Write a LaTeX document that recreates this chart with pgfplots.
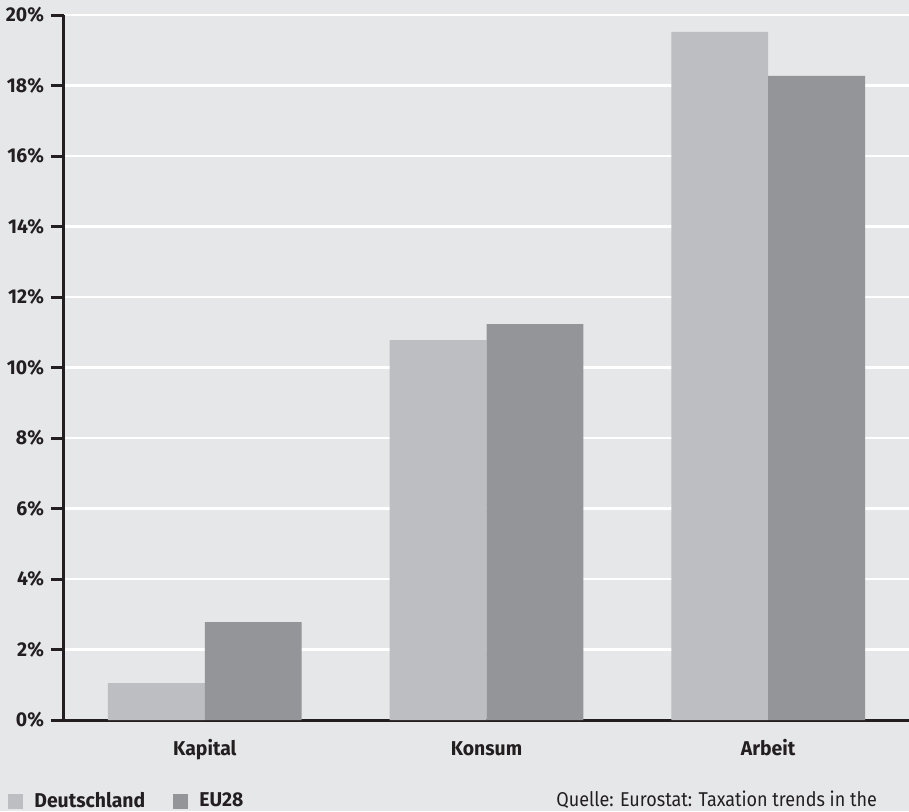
\documentclass[border=0pt]{standalone}
\usepackage{fontspec}
\setmainfont{Fira Sans}[FakeStretch=0.97]
\newfontfamily\srcfont{Fira Sans}[FakeStretch=0.9]
\usepackage{pgfplots}
\pgfplotsset{compat=1.18}
\definecolor{bg}{HTML}{E6E7E9}
\definecolor{de}{HTML}{BDBEC1}
\definecolor{eu}{HTML}{949598}
\definecolor{ax}{HTML}{231F20}
\begin{document}
\begin{tikzpicture}[x=1pt,y=1pt]
\fill[bg] (-32,-45.5) rectangle (422.5,360);
\useasboundingbox (-32,-45.5) rectangle (422.5,360);
\begin{axis}[
  at={(0,0)}, anchor=south west,
  scale only axis, width=422.5pt, height=352.5pt,
  xmin=-0.5, xmax=2.5, ymin=0, ymax=20,
  ybar=0pt, bar width=0.344,
  axis x line*=bottom, axis y line*=left,
  axis line style={-, line width=1.5pt, color=ax},
  tick align=outside,
  major tick length=6.5pt, minor tick length=6.5pt,
  every tick/.style={line width=1.5pt, color=ax},
  xtick={0,1,2}, xticklabels={Kapital,Konsum,Arbeit},
  xtick style={draw=none},
  minor xtick={-0.5,0.5,1.5},
  ytick={0,2,...,20},
  yticklabel={\pgfmathprintnumber{\tick}\%},
  /pgf/number format/assume math mode=true,
  ticklabel style={font=\bfseries\fontsize{10}{12}\selectfont, text=ax},
  xticklabel style={text height=7.6pt, text depth=2.2pt},
  ymajorgrids, grid style={white, line width=1.2pt},
  legend style={draw=none, fill=none, at={(axis description cs:0,0)}, anchor=north west,
    xshift=-31pt, yshift=-32pt, font=\bfseries\fontsize{10}{12}\selectfont, text=ax,
    /tikz/every odd column/.append style={column sep=3.5pt},
    /tikz/every even column/.append style={column sep=12pt}},
  legend columns=2,
  legend image code/.code={\fill[#1] (0pt,-3.75pt) rectangle (7.5pt,3.75pt);},
]
\addplot[fill=de, draw=none] coordinates {(0,1.05) (1,10.78) (2,19.52)};
\addplot[fill=eu, draw=none] coordinates {(0,2.78) (1,11.23) (2,18.27)};
\legend{Deutschland,EU28}
\end{axis}
\node[anchor=base west, font=\srcfont\fontsize{10}{12}\selectfont, text=ax, inner sep=0pt] at (246,-43) {Quelle: Eurostat: Taxation trends in the};
\end{tikzpicture}
\end{document}
